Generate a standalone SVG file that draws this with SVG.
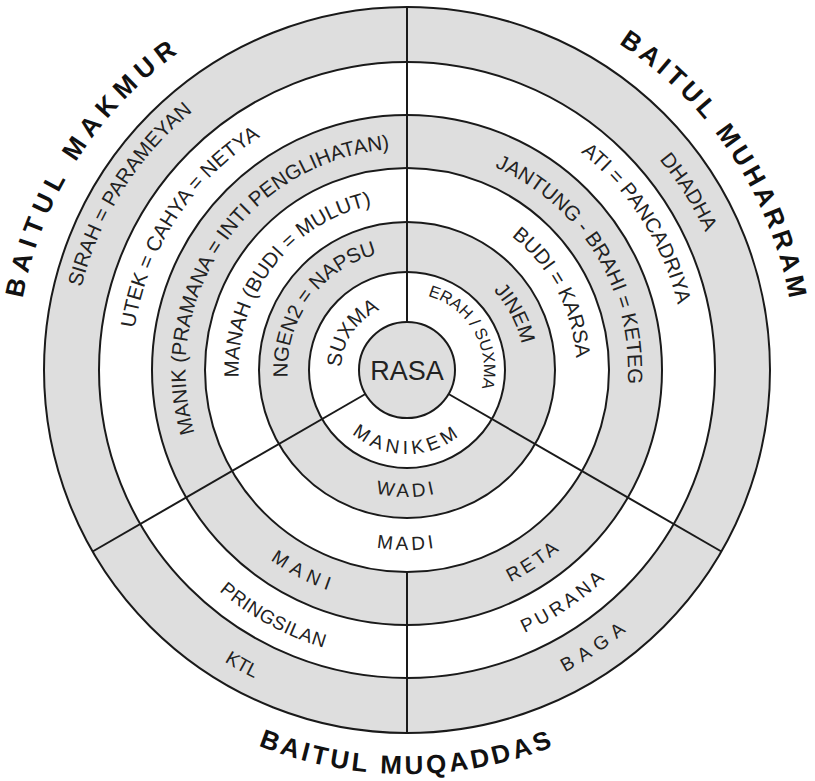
<svg xmlns="http://www.w3.org/2000/svg" xmlns:xlink="http://www.w3.org/1999/xlink" width="815" height="781" viewBox="0 0 815 781">
<style>
.ring{stroke:#1a1a1a;stroke-width:2}
.g{fill:#dedede}
.w{fill:#ffffff}
.div{stroke:#1a1a1a;stroke-width:2;fill:none}
text{font-family:"Liberation Sans",Arial,sans-serif;fill:#222}
.lt{font-size:20.5px}
.lb{font-size:19px}
.ls{font-size:16.5px}
.out{font-size:26px;font-weight:bold;fill:#111}
.rasa{font-size:27px}
</style>
<defs>
<path id="t336" d="M71,370 A336,336 0 0 1 743,370"/>
<path id="t275" d="M131.5,370 A275.5,275.5 0 0 1 682.5,370"/>
<path id="t221b" d="M185.5,370 A221.5,221.5 0 0 1 628.5,370"/>
<path id="t168" d="M238.5,370 A168.5,168.5 0 0 1 575.5,370"/>
<path id="t119" d="M287.5,370 A119.5,119.5 0 0 1 526.5,370"/>
<path id="t66" d="M341,370 A66,66 0 0 1 473,370"/>
<path id="t328" d="M78.5,370 A328.5,328.5 0 0 1 735.5,370"/>
<path id="t278" d="M128.5,370 A278.5,278.5 0 0 1 685.5,370"/>
<path id="t221" d="M186,370 A221,221 0 0 1 628,370"/>
<path id="t169" d="M237.5,370 A169.5,169.5 0 0 1 576.5,370"/>
<path id="t117" d="M289.5,370 A117.5,117.5 0 0 1 524.5,370"/>
<path id="t77" d="M330,370 A77,77 0 0 1 484,370"/>
<path id="t391" d="M16,370 A391,391 0 0 1 798,370"/>
<path id="t389" d="M18,370 A389,389 0 0 1 796,370"/>
<path id="b84" d="M323,370 A84,84 0 0 0 491,370"/>
<path id="b127" d="M280,370 A127,127 0 0 0 534,370"/>
<path id="b180" d="M227,370 A180,180 0 0 0 587,370"/>
<path id="b234" d="M173,370 A234,234 0 0 0 641,370"/>
<path id="b236" d="M171,370 A236,236 0 0 0 643,370"/>
<path id="b290" d="M117,370 A290,290 0 0 0 697,370"/>
<path id="b288" d="M119,370 A288,288 0 0 0 695,370"/>
<path id="b344" d="M63,370 A344,344 0 0 0 751,370"/>
<path id="b341" d="M66,370 A341,341 0 0 0 748,370"/>
<path id="b404" d="M3,370 A404,404 0 0 0 811,370"/>
</defs>

<g id="rings">
<circle class="ring g" cx="407" cy="370" r="363"/>
<circle class="ring w" cx="407" cy="370" r="308"/>
<circle class="ring g" cx="407" cy="370" r="255"/>
<circle class="ring w" cx="407" cy="370" r="202"/>
<circle class="ring g" cx="407" cy="370" r="148"/>
<circle class="ring w" cx="407" cy="370" r="98"/>
</g>

<g id="connectors">
<line class="div" x1="407" y1="7" x2="407" y2="322"/>
<line class="div" x1="365.43" y1="394" x2="92.63" y2="551.5"/>
<line class="div" x1="448.57" y1="394" x2="721.37" y2="551.5"/>
<line class="div" x1="407" y1="572" x2="407" y2="733"/>
</g>

<g id="rasa">
<circle class="ring g" cx="407" cy="370" r="48"/>
<text class="rasa" x="407" y="379.5" text-anchor="middle">RASA</text>
</g>

<g id="sector-makmur">
<text class="lt" text-anchor="middle" transform="rotate(-57.7 407 370)"><textPath xlink:href="#t336" startOffset="50%">SIRAH = PARAMEYAN</textPath></text>
<text class="lt" text-anchor="middle" transform="rotate(-56.7 407 370)"><textPath xlink:href="#t275" startOffset="50%">UTEK = CAHYA = NETYA</textPath></text>
<text class="lt" text-anchor="middle" transform="rotate(-55.5 407 370)"><textPath xlink:href="#t221b" startOffset="50%">MANIK (PRAMANA = INTI PENGLIHATAN)</textPath></text>
<text class="lt" text-anchor="middle" transform="rotate(-52.3 407 370)"><textPath xlink:href="#t168" startOffset="50%">MANAH (BUDI = MULUT)</textPath></text>
<text class="lt" text-anchor="middle" transform="rotate(-54.1 407 370)"><textPath xlink:href="#t119" startOffset="50%">NGEN2 = NAPSU</textPath></text>
<text class="lt" text-anchor="middle" transform="rotate(-56 407 370)"><textPath xlink:href="#t66" startOffset="50%">SUXMA</textPath></text>
<text class="out" text-anchor="middle" letter-spacing="6.4" transform="rotate(-57.2 407 370)"><textPath xlink:href="#t391" startOffset="50%">BAITUL MAKMUR</textPath></text>
</g>

<g id="sector-muharram">
<text class="lt" text-anchor="middle" transform="rotate(57.7 407 370)"><textPath xlink:href="#t328" startOffset="50%">DHADHA</textPath></text>
<text class="lt" text-anchor="middle" transform="rotate(57.5 407 370)"><textPath xlink:href="#t278" startOffset="50%">ATI = PANCADRIYA</textPath></text>
<text class="lt" text-anchor="middle" transform="rotate(58.5 407 370)"><textPath xlink:href="#t221" startOffset="50%">JANTUNG - BRAHI = KETEG</textPath></text>
<text class="lt" text-anchor="middle" transform="rotate(62 407 370)"><textPath xlink:href="#t169" startOffset="50%">BUDI = KARSA</textPath></text>
<text class="lt" text-anchor="middle" transform="rotate(62.3 407 370)"><textPath xlink:href="#t117" startOffset="50%">JINEM</textPath></text>
<text class="ls" text-anchor="middle" transform="rotate(59.7 407 370)"><textPath xlink:href="#t77" startOffset="50%">ERAH / SUXMA</textPath></text>
<text class="out" text-anchor="middle" letter-spacing="4.1" transform="rotate(56.5 407 370)"><textPath xlink:href="#t389" startOffset="50%">BAITUL MUHARRAM</textPath></text>
</g>

<g id="sector-muqaddas">
<text class="lb" text-anchor="middle" letter-spacing="4.4"><textPath xlink:href="#b84" startOffset="50%">MANIKEM</textPath></text>
<text class="lb" text-anchor="middle" letter-spacing="3.5"><textPath xlink:href="#b127" startOffset="50%">WADI</textPath></text>
<text class="lb" text-anchor="middle" letter-spacing="3.5"><textPath xlink:href="#b180" startOffset="50%">MADI</textPath></text>
<text class="lb" text-anchor="middle" letter-spacing="6" transform="rotate(27 407 370)"><textPath xlink:href="#b234" startOffset="50%">MANI</textPath></text>
<text class="lb" text-anchor="middle" letter-spacing="0.5" transform="rotate(28.5 407 370)"><textPath xlink:href="#b290" startOffset="50%">PRINGSILAN</textPath></text>
<text class="lb" text-anchor="middle" transform="rotate(29.2 407 370)"><textPath xlink:href="#b344" startOffset="50%">KTL</textPath></text>
<text class="lb" text-anchor="middle" letter-spacing="3.1" transform="rotate(-33.5 407 370)"><textPath xlink:href="#b236" startOffset="50%">RETA</textPath></text>
<text class="lb" text-anchor="middle" letter-spacing="3.6" transform="rotate(-34.1 407 370)"><textPath xlink:href="#b288" startOffset="50%">PURANA</textPath></text>
<text class="lb" text-anchor="middle" letter-spacing="7" transform="rotate(-34.4 407 370)"><textPath xlink:href="#b341" startOffset="50%">BAGA</textPath></text>
<text class="out" text-anchor="middle" letter-spacing="3.3"><textPath xlink:href="#b404" startOffset="50%">BAITUL MUQADDAS</textPath></text>
</g>
</svg>
